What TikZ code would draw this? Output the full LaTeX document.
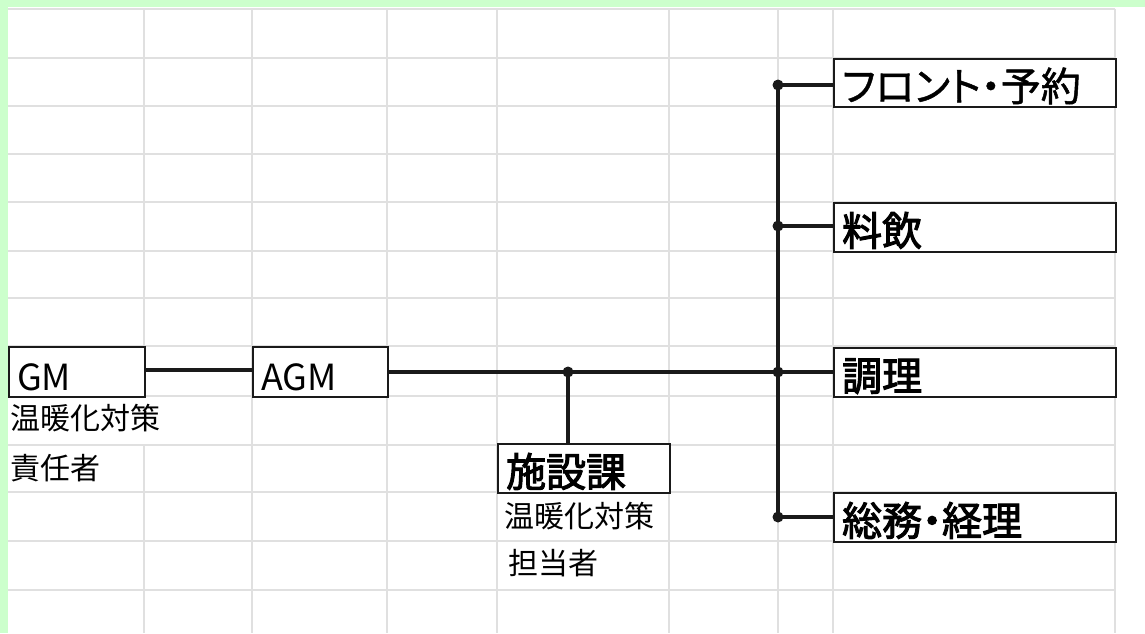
\documentclass[tikz,border=0pt]{standalone}
\usepackage{fontspec}
\setmainfont{Noto Sans CJK JP}
\newfontfamily\jpfont{Noto Sans CJK JP}
\newfontfamily\jpsemi[FakeBold=2.5]{Noto Sans CJK JP}
\newfontfamily\jppalt[RawFeature=+palt,FakeBold=1.2]{Noto Sans CJK JP}
\newfontfamily\jppaltsemi[RawFeature=+palt,FakeBold=2.5]{Noto Sans CJK JP}
\definecolor{bordergreen}{HTML}{CCFFCC}
\definecolor{gridgray}{HTML}{E0E0E0}
\definecolor{ink}{HTML}{1A1A1A}
\tikzset{
  box/.style={draw=ink, line width=2.2pt, fill=white, rectangle, anchor=north west,
    inner xsep=8pt, inner ysep=0pt, align=left, text height=37pt, text depth=1pt},
  bigjp/.style={font=\jpsemi\fontsize{40}{40}\selectfont},
  biglat/.style={font=\jpfont\fontsize{36}{36}\selectfont},
  smalljp/.style={font=\jpfont\fontsize{30}{30}\selectfont, anchor=west, inner sep=0pt},
  conn/.style={draw=ink, line width=3.2pt},
  jdot/.style={fill=ink, circle, inner sep=0pt, minimum size=11pt},
  gridline/.style={draw=gridgray, line width=2pt}
}
\begin{document}
\begin{tikzpicture}[x=1pt,y=-1pt]
\useasboundingbox (0,0) rectangle (1145,633);
\fill[white] (0,0) rectangle (1145,633);
% green frame
\fill[bordergreen] (0,0) rectangle (1145,7);
\fill[bordergreen] (0,0) rectangle (8,633);
% grid
\foreach \yy in {9,58,106,154,202,251,298,346,396,445,492,541,590}
  \draw[gridline] (8,\yy) -- (1115,\yy);
\draw[gridline] (144,9) -- (144,396);
\draw[gridline] (144,445) -- (144,633);
\foreach \xx in {252,387,497,669,778,833,1115}
  \draw[gridline] (\xx,9) -- (\xx,633);
% boxes
\node[box, biglat, minimum width=136pt, minimum height=50pt, text width=120pt] (gm) at (8,346) {GM};
\node[box, biglat, minimum width=135pt, minimum height=50pt, text width=119pt] (agm) at (252,346) {AGM};
\node[box, bigjp, minimum width=172pt, minimum height=49pt, text width=156pt] (shisetsu) at (497,443) {施設課};
\node[box, font=\jppalt\fontsize{40}{40}\selectfont, minimum width=282pt, minimum height=48pt, text width=266pt, inner xsep=6pt] (front) at (833,58) {フロント・予約};
\node[box, bigjp, minimum width=282pt, minimum height=49pt, text width=266pt] (ryouin) at (833,202) {料飲};
\node[box, bigjp, minimum width=282pt, minimum height=49pt, text width=266pt] (chouri) at (833,347) {調理};
\node[box, font=\jppaltsemi\fontsize{40}{40}\selectfont, minimum width=282pt, minimum height=49pt, text width=266pt] (soumu) at (833,492) {総務・経理};
% captions
\node[smalljp] (gmrole1) at (10,418) {温暖化対策};
\node[smalljp] (gmrole2) at (10,468) {責任者};
\node[smalljp] (shrole1) at (504,516) {温暖化対策};
\node[smalljp] (shrole2) at (508,563) {担当者};
% junctions
\coordinate (jmain) at (778,372);
\coordinate (jtop) at (778,85);
\coordinate (jfood) at (778,226);
\coordinate (jbot) at (778,517);
\coordinate (jshi) at (568,372);
% connectors
\draw[conn] (gm.east |- 0,370) -- (agm.west |- 0,370);
\draw[conn] (agm.east |- jmain) -- (jmain);
\draw[conn] (jshi) -- (jshi |- shisetsu.north);
\draw[conn] (jtop) -- (jbot);
\draw[conn] (jtop) -- (jtop -| front.west);
\draw[conn] (jfood) -- (jfood -| ryouin.west);
\draw[conn] (jmain) -- (jmain -| chouri.west);
\draw[conn] (jbot) -- (jbot -| soumu.west);
% dots
\node[jdot] (dshi) at (jshi) {};
\node[jdot] (dtop) at (jtop) {};
\node[jdot] (dfood) at (jfood) {};
\node[jdot] (dmain) at (jmain) {};
\node[jdot] (dbot) at (jbot) {};
\end{tikzpicture}
\end{document}
